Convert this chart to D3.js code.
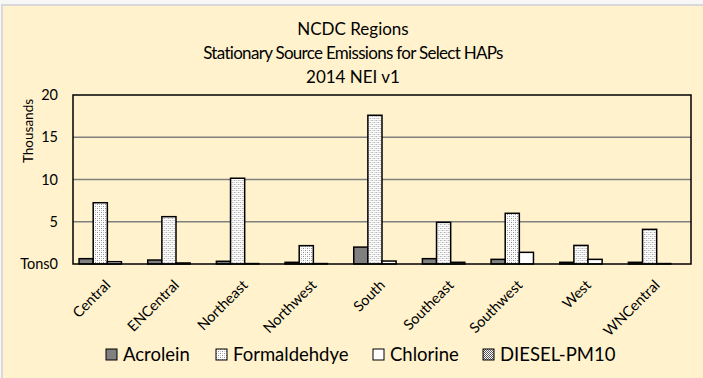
<!DOCTYPE html>
<html>
<head>
<meta charset="utf-8">
<script src="https://cdn.jsdelivr.net/npm/d3@7"></script>
<style>
  html, body { margin: 0; padding: 0; background: #fff; }
  svg { display: block; }
</style>
</head>
<body>
<svg id="chart" width="703" height="378"></svg>
<script>
// Stationary source emissions (thousand tons) by NCDC region, 2014 NEI v1
const regions = ["Central", "ENCentral", "Northeast", "Northwest", "South", "Southeast", "Southwest", "West", "WNCentral"];
const seriesNames = ["Acrolein", "Formaldehdye", "Chlorine", "DIESEL-PM10"];
const acrolein     = [0.63, 0.47, 0.32, 0.20, 2.00, 0.63, 0.55, 0.20, 0.20];
const formaldehyde = [7.25, 5.60, 10.15, 2.17, 17.6, 4.93, 6.00, 2.20, 4.10];
const chlorine     = [0.27, 0.12, 0.05, 0.05, 0.35, 0.20, 1.38, 0.55, 0.05];
const dieselPM10   = [0, 0, 0, 0, 0, 0, 0, 0, 0];
const yTicks = [0, 5, 10, 15, 20];
const yTickLabels = ["Tons0", "5", "10", "15", "20"];

const seriesValues = [acrolein, formaldehyde, chlorine, dieselPM10];
const FONT = "Lato, 'Open Sans', sans-serif";

const svg = d3.select("#chart");
const W = 703, H = 378;
const plot = { left: 73, right: 691, top: 95, bottom: 264 };

// chart background and outer frame (frame runs past the right/bottom edge)
svg.append("rect").attr("x", 0).attr("y", 0).attr("width", W).attr("height", H).attr("fill", "#f7f7f7");
svg.append("rect").attr("x", 2).attr("y", 5).attr("width", W + 10).attr("height", H + 10)
  .attr("fill", "#fff2cc").attr("stroke", "#d9d9d9").attr("stroke-width", 2);

// fill patterns
const defs = svg.append("defs");
const dots = defs.append("pattern").attr("id", "dots").attr("patternUnits", "userSpaceOnUse")
  .attr("width", 4).attr("height", 4);
dots.append("rect").attr("width", 4).attr("height", 4).attr("fill", "#ffffff");
dots.append("rect").attr("x", 0).attr("y", 0).attr("width", 1).attr("height", 1).attr("fill", "#8c8c8c");
dots.append("rect").attr("x", 2).attr("y", 2).attr("width", 1).attr("height", 1).attr("fill", "#8c8c8c");
dots.append("rect").attr("x", 2).attr("y", 0).attr("width", 1).attr("height", 1).attr("fill", "#cccccc");
dots.append("rect").attr("x", 0).attr("y", 2).attr("width", 1).attr("height", 1).attr("fill", "#cccccc");

const checks = defs.append("pattern").attr("id", "checks").attr("patternUnits", "userSpaceOnUse")
  .attr("width", 2).attr("height", 2);
checks.append("rect").attr("width", 2).attr("height", 2).attr("fill", "#ffffff");
checks.append("rect").attr("x", 0).attr("y", 0).attr("width", 1).attr("height", 1).attr("fill", "#555555");
checks.append("rect").attr("x", 1).attr("y", 1).attr("width", 1).attr("height", 1).attr("fill", "#555555");

const fills = ["#808080", "url(#dots)", "#ffffff", "url(#checks)"];

// scales
const x0 = d3.scaleBand().domain(regions).range([plot.left, plot.right]).paddingInner(0).paddingOuter(0);
const bandW = x0.bandwidth();
const x1 = d3.scaleBand().domain(seriesNames).range([0, bandW]).paddingOuter(0.43).paddingInner(0);
const y = d3.scaleLinear().domain([0, 20]).range([plot.bottom, plot.top]);

// gridlines
svg.append("g").selectAll("line").data(yTicks.filter(t => t > 0 && t < 20)).join("line")
  .attr("x1", plot.left).attr("x2", plot.right)
  .attr("y1", d => y(d)).attr("y2", d => y(d))
  .attr("stroke", "#7f7f7f").attr("stroke-width", 1.5);

// bars
const groups = svg.append("g").selectAll("g").data(regions).join("g")
  .attr("transform", d => `translate(${x0(d)},0)`);
groups.selectAll("rect").data((d, i) => seriesNames.map((s, j) => ({ s, j, v: seriesValues[j][i] })))
  .join("rect")
  .attr("x", d => x1(d.s)).attr("width", x1.bandwidth())
  .attr("y", d => y(d.v)).attr("height", d => y(0) - y(d.v))
  .attr("fill", d => fills[d.j])
  .attr("stroke", d => d.v > 0 ? "#000" : "none").attr("stroke-width", 1.5);

// plot frame
svg.append("rect").attr("x", plot.left).attr("y", plot.top)
  .attr("width", plot.right - plot.left).attr("height", plot.bottom - plot.top)
  .attr("fill", "none").attr("stroke", "#000").attr("stroke-width", 1.5);

// y axis labels
const yAxis = d3.axisLeft(y).tickValues(yTicks).tickSize(0).tickPadding(15)
  .tickFormat((d, i) => yTickLabels[i]);
const gy = svg.append("g").attr("transform", `translate(${plot.left},0)`).call(yAxis);
gy.select(".domain").remove();
gy.selectAll("text").attr("font-family", FONT).attr("font-size", 14.5).attr("fill", "#000");

svg.append("text").attr("transform", "translate(33,131) rotate(-90)")
  .attr("text-anchor", "middle").attr("font-family", FONT).attr("font-size", 13.5).attr("fill", "#000")
  .text("Thousands");

// x axis labels
const xAxis = d3.axisBottom(x0).tickSize(0).tickPadding(0);
const gx = svg.append("g").attr("transform", `translate(0,${plot.bottom})`).call(xAxis);
gx.select(".domain").remove();
gx.selectAll("text")
  .attr("font-family", FONT).attr("font-size", 14.5).attr("fill", "#000")
  .attr("text-anchor", "end").attr("dy", 0).attr("y", 0)
  .attr("transform", "translate(4,22) rotate(-45)");

// title (the long middle line is tracked in slightly)
const titleLines = ["NCDC Regions", "Stationary Source Emissions for Select HAPs", "2014 NEI v1"];
svg.append("g").selectAll("text").data(titleLines).join("text")
  .attr("x", 353).attr("y", (d, i) => 35 + i * 24)
  .attr("text-anchor", "middle").attr("font-family", FONT).attr("font-size", 17).attr("fill", "#000")
  .attr("letter-spacing", d => d.length > 20 ? "-0.7px" : "0px")
  .text(d => d);

// legend
const legendX = [106, 216, 373, 483];
const leg = svg.append("g").selectAll("g").data(seriesNames).join("g")
  .attr("transform", (d, i) => `translate(${legendX[i]},349)`);
leg.append("rect").attr("width", 11).attr("height", 11)
  .attr("fill", (d, i) => fills[i]).attr("stroke", "#000").attr("stroke-width", 1);
leg.append("text").attr("x", 17).attr("y", 12)
  .attr("font-family", FONT).attr("font-size", 18.5).attr("fill", "#000")
  .text(d => d);
</script>
</body>
</html>
